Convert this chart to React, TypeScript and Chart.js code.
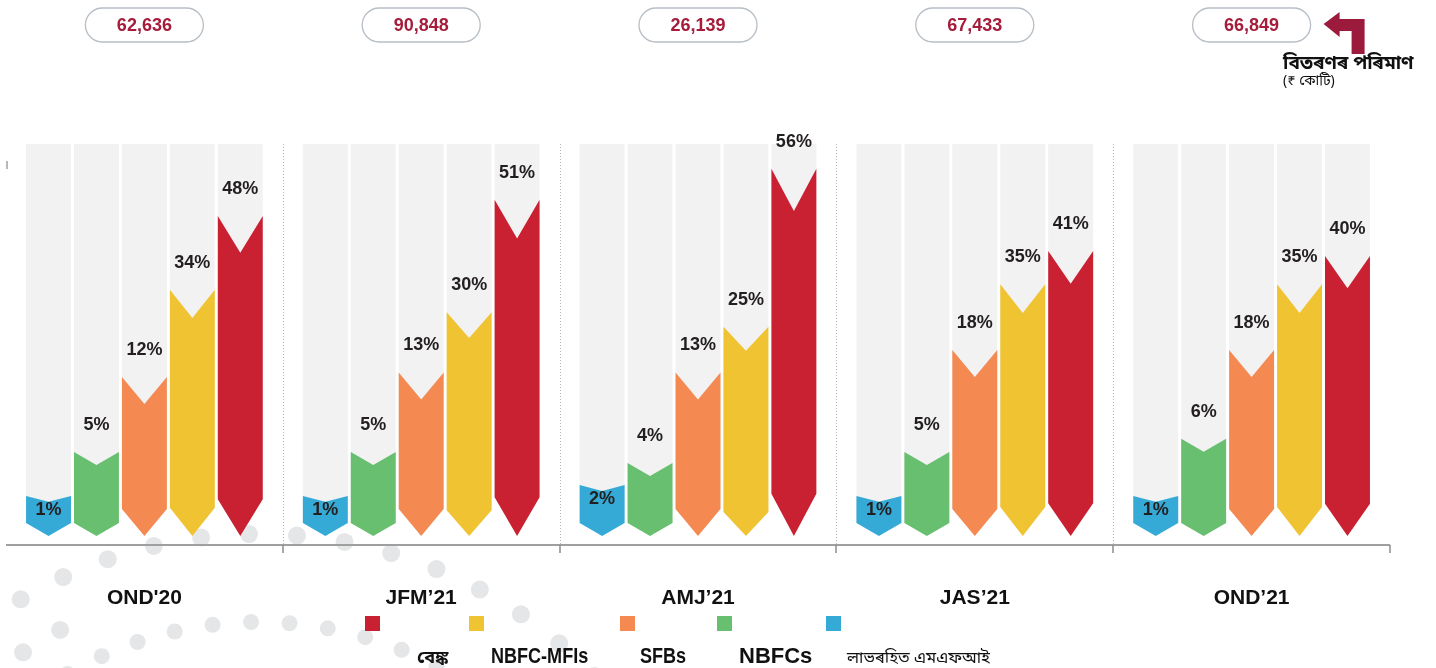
import React, { useEffect, useRef } from 'react';
import { Chart, registerables, LinearScale } from 'chart.js';

Chart.register(...registerables);

// ---------- data ----------
const categories = ["OND'20", 'JFM’21', 'AMJ’21', 'JAS’21', 'OND’21'];
const disbursementCr = ['62,636', '90,848', '26,139', '67,433', '66,849'];
const notForProfitMfis = [1, 1, 2, 1, 1];
const nbfcs = [5, 5, 4, 5, 6];
const sfbs = [12, 13, 13, 18, 18];
const nbfcMfis = [34, 30, 25, 35, 35];
const banks = [48, 51, 56, 41, 40];

const seriesNames = ['লাভৰহিত এমএফআই', 'NBFCs', 'SFBs', 'NBFC-MFIs', 'বেঙ্ক'];
const seriesValues = [notForProfitMfis, nbfcs, sfbs, nbfcMfis, banks];

// non-linear (infographic) value axis: value break points and their share of the axis
const axisBreakValues = [0, 1, 5, 10, 20, 30, 40, 50, 60];
const axisBreakShares = [0, 0.102, 0.214, 0.383, 0.497, 0.571, 0.714, 0.842, 1];

// ---------- styles ----------
const seriesColors = ['#36aad6', '#67bf6f', '#f48a52', '#f0c332', '#c92032'];
const chevronMinDepth = [13, 13, 27, 24, 13];
const notchScale = [0.45, 1, 1, 1, 1];
const legendOrder = [4, 3, 2, 1, 0];

function toShare(v: number) {
  if (v <= axisBreakValues[0]) return 0;
  for (let i = 1; i < axisBreakValues.length; i++) {
    if (v <= axisBreakValues[i]) {
      const a = axisBreakValues[i - 1], b = axisBreakValues[i];
      const t = (v - a) / (b - a);
      return axisBreakShares[i - 1] + t * (axisBreakShares[i] - axisBreakShares[i - 1]);
    }
  }
  return 1;
}
function fromShare(s: number) {
  for (let i = 1; i < axisBreakShares.length; i++) {
    if (s <= axisBreakShares[i]) {
      const a = axisBreakShares[i - 1], b = axisBreakShares[i];
      const t = (s - a) / (b - a);
      return axisBreakValues[i - 1] + t * (axisBreakValues[i] - axisBreakValues[i - 1]);
    }
  }
  return axisBreakValues[axisBreakValues.length - 1];
}

class PiecewiseScale extends (LinearScale as any) {
  static id = 'piecewise';
  static defaults = { ...(LinearScale as any).defaults };
  getPixelForValue(value: number) {
    if (value === null || value === undefined || isNaN(value)) return NaN;
    return (this as any).getPixelForDecimal(toShare(value));
  }
  getValueForPixel(pixel: number) {
    return fromShare((this as any).getDecimalForPixel(pixel));
  }
}
Chart.register(PiecewiseScale as any);

const SANS = "'Liberation Sans', Arial, Helvetica, sans-serif";
const BN = "'Noto Sans Bengali', 'Noto Sans', 'Liberation Sans', sans-serif";

function roundRect(ctx: CanvasRenderingContext2D, x: number, y: number, w: number, h: number, r: number) {
  ctx.beginPath();
  ctx.moveTo(x + r, y);
  ctx.lineTo(x + w - r, y);
  ctx.arc(x + w - r, y + r, r, -Math.PI / 2, Math.PI / 2);
  ctx.lineTo(x + r, y + h);
  ctx.arc(x + r, y + r, r, Math.PI / 2, (3 * Math.PI) / 2);
  ctx.closePath();
}

function chevronDepth(ds: number, len: number) {
  return Math.max(chevronMinDepth[ds], 0.115 * len);
}

const infographicPlugin = {
  id: 'infographic',
  beforeDraw(chart: any) {
    const ctx: CanvasRenderingContext2D = chart.ctx;
    ctx.save();
    ctx.fillStyle = '#ffffff';
    ctx.fillRect(0, 0, chart.width, chart.height);
    // decorative dot rings (bottom-left)
    const cx = 259, cy = 1001;
    const rings = [
      { r: 467, start: -0.0214, step: 0.1028, from: -6, to: 8, dot: 9 },
      { r: 421, start: -0.595, step: 0.103, from: -1, to: 1, dot: 9 },
      { r: 379, start: -0.021, step: 0.1017, from: -6, to: 6, dot: 8 },
    ];
    ctx.fillStyle = '#e5e6e7';
    rings.forEach((ring) => {
      for (let k = ring.from; k <= ring.to; k++) {
        const th = ring.start + k * ring.step;
        const x = cx + ring.r * Math.sin(th);
        const y = cy - ring.r * Math.cos(th);
        ctx.beginPath();
        ctx.arc(x, y, ring.dot, 0, Math.PI * 2);
        ctx.fill();
      }
    });
    ctx.restore();
  },
  beforeDatasetsDraw(chart: any) {
    const ctx: CanvasRenderingContext2D = chart.ctx;
    const area = chart.chartArea;
    const xs = chart.scales.x;
    const axisY = area.bottom + 9;
    ctx.save();
    // grey background columns
    chart.data.datasets.forEach((_d: any, di: number) => {
      const meta = chart.getDatasetMeta(di);
      meta.data.forEach((el: any) => {
        const { x, y, base, width } = el.getProps(['x', 'y', 'base', 'width'], true);
        const d = chevronDepth(di, base - y);
        ctx.fillStyle = '#f2f2f2';
        ctx.fillRect(x - width / 2, area.top, width, base - d - area.top);
      });
    });
    // dotted dividers between periods
    const n = categories.length;
    const step = xs.getPixelForValue(1) - xs.getPixelForValue(0);
    ctx.strokeStyle = '#b4b4b4';
    ctx.lineWidth = 1;
    ctx.setLineDash([1, 2]);
    for (let i = 0; i < n - 1; i++) {
      const bx = Math.round(xs.getPixelForValue(i) + step / 2) + 0.5;
      ctx.beginPath();
      ctx.moveTo(bx, area.top);
      ctx.lineTo(bx, axisY);
      ctx.stroke();
    }
    ctx.setLineDash([]);
    // axis line + ticks
    ctx.strokeStyle = '#9f9f9f';
    ctx.lineWidth = 2;
    ctx.beginPath();
    ctx.moveTo(area.left, axisY);
    ctx.lineTo(area.right, axisY);
    ctx.stroke();
    ctx.strokeStyle = '#8c8c8c';
    ctx.lineWidth = 1.5;
    for (let i = 0; i < n; i++) {
      const bx = Math.round(xs.getPixelForValue(i) + step / 2);
      ctx.beginPath();
      ctx.moveTo(bx, axisY);
      ctx.lineTo(bx, axisY + 8);
      ctx.stroke();
    }
    // small mark on the hidden value axis
    ctx.strokeStyle = '#a0a0a0';
    ctx.lineWidth = 1.5;
    ctx.beginPath();
    ctx.moveTo(area.left + 1, area.top + 17);
    ctx.lineTo(area.left + 1, area.top + 25);
    ctx.stroke();
    ctx.restore();
  },
  afterDatasetsDraw(chart: any) {
    const ctx: CanvasRenderingContext2D = chart.ctx;
    const xs = chart.scales.x;
    ctx.save();
    // chevron bars
    chart.data.datasets.forEach((ds: any, di: number) => {
      const meta = chart.getDatasetMeta(di);
      meta.data.forEach((el: any, i: number) => {
        const { x, y, base, width } = el.getProps(['x', 'y', 'base', 'width'], true);
        const len = base - y;
        const d = chevronDepth(di, len);
        const L = x - width / 2, R = x + width / 2;
        ctx.fillStyle = seriesColors[di];
        ctx.beginPath();
        ctx.moveTo(L, y);
        ctx.lineTo(x, y + d * notchScale[di]);
        ctx.lineTo(R, y);
        ctx.lineTo(R, base - d);
        ctx.lineTo(x, base);
        ctx.lineTo(L, base - d);
        ctx.closePath();
        ctx.fill();
        // value label
        const v = ds.data[i];
        ctx.fillStyle = '#231f20';
        ctx.font = `bold 18px ${SANS}`;
        ctx.textAlign = 'center';
        ctx.textBaseline = 'middle';
        const ly = len < 60 ? y + 14 : y - 27;
        ctx.fillText(`${v}%`, x, ly);
      });
    });
    // category labels
    ctx.fillStyle = '#111111';
    ctx.font = `bold 21px ${SANS}`;
    ctx.textAlign = 'center';
    ctx.textBaseline = 'middle';
    categories.forEach((c, i) => {
      ctx.fillText(c, xs.getPixelForValue(i), 598);
    });
    // disbursement pills
    disbursementCr.forEach((t, i) => {
      const cx = xs.getPixelForValue(i);
      const w = 118, h = 34;
      roundRect(ctx, cx - w / 2, 8, w, h, h / 2);
      ctx.fillStyle = '#ffffff';
      ctx.fill();
      ctx.strokeStyle = '#b7bec5';
      ctx.lineWidth = 1.3;
      ctx.stroke();
      ctx.fillStyle = '#a51d3b';
      ctx.font = `bold 18px ${SANS}`;
      ctx.textAlign = 'center';
      ctx.textBaseline = 'middle';
      ctx.fillText(t, cx, 26);
    });
    // annotation arrow
    const ax = xs.getPixelForValue(categories.length - 1) + 72;
    ctx.fillStyle = '#9c1b3c';
    ctx.beginPath();
    ctx.moveTo(ax, 24);
    ctx.lineTo(ax + 16, 12);
    ctx.lineTo(ax + 16, 19);
    ctx.lineTo(ax + 41, 19);
    ctx.lineTo(ax + 41, 54);
    ctx.lineTo(ax + 28, 54);
    ctx.lineTo(ax + 28, 31);
    ctx.lineTo(ax + 16, 31);
    ctx.lineTo(ax + 16, 37);
    ctx.closePath();
    ctx.fill();
    ctx.fillStyle = '#111111';
    ctx.textAlign = 'left';
    ctx.textBaseline = 'alphabetic';
    ctx.font = `bold 19px ${BN}`;
    ctx.fillText('বিতৰণৰ পৰিমাণ', 1283, 69);
    ctx.font = `14px ${BN}`;
    ctx.fillText('(₹ কোটি)', 1283, 85);
    // legend
    const squareX = [365, 469, 620, 717, 826];
    const labelX = [417, 491, 640, 739, 847];
    const labelFont = [`bold 18px ${BN}`, `bold 22px ${SANS}`, `bold 22px ${SANS}`, `bold 22px ${SANS}`, `16.5px ${BN}`];
    const labelSqueeze = [1, 0.82, 0.82, 1, 1];
    legendOrder.forEach((si, k) => {
      ctx.fillStyle = seriesColors[si];
      ctx.fillRect(squareX[k], 616, 15, 15);
      ctx.fillStyle = '#111111';
      ctx.font = labelFont[k];
      ctx.textAlign = 'left';
      ctx.textBaseline = 'alphabetic';
      ctx.save();
      ctx.translate(labelX[k], 663);
      ctx.scale(labelSqueeze[k], 1);
      ctx.fillText(seriesNames[si], 0, 0);
      ctx.restore();
    });
    ctx.restore();
  },
};

export default function App() {
  const ref = useRef<HTMLCanvasElement | null>(null);
  useEffect(() => {
    if (!ref.current) return;
    const chart = new Chart(ref.current, {
      type: 'bar',
      data: {
        labels: categories,
        datasets: seriesValues.map((vals, i) => ({
          label: seriesNames[i],
          data: vals,
          backgroundColor: 'rgba(0,0,0,0)',
          borderWidth: 0,
          categoryPercentage: 0.866,
          barPercentage: 0.9375,
        })),
      },
      options: {
        responsive: false,
        animation: false,
        devicePixelRatio: 1,
        layout: { padding: { left: 6, right: 46, top: 144, bottom: 132 } },
        scales: {
          x: { display: false },
          y: { type: 'piecewise' as any, display: false, min: 0, max: 60 },
        },
        plugins: { legend: { display: false }, tooltip: { enabled: false } },
      } as any,
      plugins: [infographicPlugin as any],
    });
    return () => chart.destroy();
  }, []);
  return (
    <div style={{ position: 'fixed', left: 0, top: 0, width: 1436, height: 668, background: '#fff' }}>
      <canvas ref={ref} width={1436} height={668} style={{ width: 1436, height: 668, display: 'block' }} />
    </div>
  );
}
